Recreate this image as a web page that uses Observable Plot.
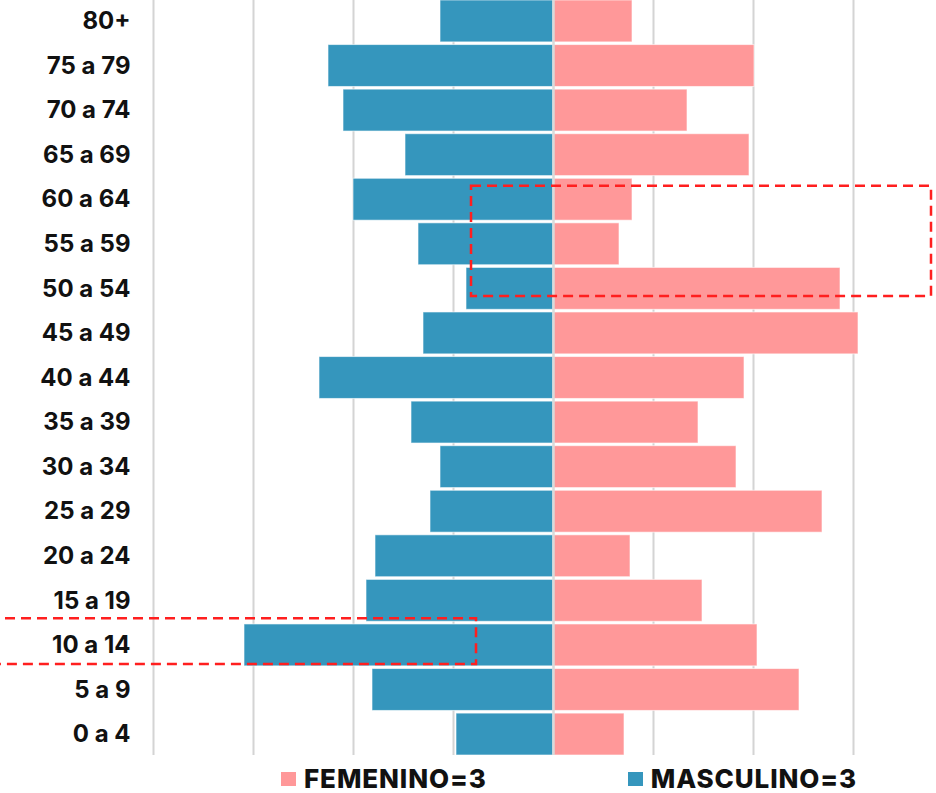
<!DOCTYPE html>
<html>
<head>
<meta charset="utf-8">
<script src="https://cdn.jsdelivr.net/npm/d3@7"></script>
<script src="https://cdn.jsdelivr.net/npm/@observablehq/plot@0.6"></script>
<style>
  html, body { margin: 0; padding: 0; background: #fff; }
  body { width: 936px; height: 793px; overflow: hidden; font-family: Inter, "DejaVu Sans", sans-serif; }
  #chart svg { display: block; }
  #legend { display: flex; align-items: center; margin-left: 281px; gap: 141px; padding-top: 10px; }
  .item { display: flex; align-items: center; font-size: 26px; font-weight: 800; color: #111; line-height: 1; letter-spacing: 0.9px; }
  .sw { width: 15px; height: 14px; margin-right: 8px; display: inline-block; }
</style>
</head>
<body>
<div id="chart"></div>
<div id="legend"></div>
<script>
// ---- data ----
const ageGroups = ["80+", "75 a 79", "70 a 74", "65 a 69", "60 a 64", "55 a 59", "50 a 54", "45 a 49",
  "40 a 44", "35 a 39", "30 a 34", "25 a 29", "20 a 24", "15 a 19", "10 a 14", "5 a 9", "0 a 4"];
const masculino = [1.13, 2.25, 2.10, 1.48, 2.00, 1.35, 0.87, 1.30, 2.34, 1.42, 1.13, 1.23, 1.78, 1.87, 3.09, 1.81, 0.97];
const femenino  = [0.79, 2.01, 1.34, 1.96, 0.79, 0.66, 2.87, 3.05, 1.91, 1.45, 1.83, 2.69, 0.77, 1.49, 2.04, 2.46, 0.71];
const gridTicks = [-4, -3, -2, -1, 1, 2, 3];
const seriesNames = ["FEMENINO", "MASCULINO"];
const legendLabels = ["FEMENINO=3", "MASCULINO=3"];
// highlight boxes (annotation), in data terms: age band + fraction of a row, x in value units
const highlightBoxes = [
  {fromAge: "60 a 64", fromOffset: 0.17, toAge: "50 a 54", toOffset: 0.64, x1: -0.82, x2: 3.78},
  {fromAge: "10 a 14", fromOffset: -0.13, toAge: "10 a 14", toOffset: 0.90, x1: -5.8, x2: -0.77}
];

const colors = {FEMENINO: "#ff9899", MASCULINO: "#3596bd"};

const rows = ageGroups.flatMap((g, i) => [
  {age: g, sexo: "MASCULINO", v: -masculino[i]},
  {age: g, sexo: "FEMENINO", v: femenino[i]}
]);

const plot = Plot.plot({
  width: 936,
  height: 756,
  marginTop: 0,
  marginBottom: 1,
  marginLeft: 140,
  marginRight: 0,
  x: {domain: [-4.13, 3.83], axis: null},
  y: {domain: ageGroups, paddingInner: 0.06, paddingOuter: 0, round: false, label: null},
  color: {domain: seriesNames, range: seriesNames.map(s => colors[s])},
  style: {fontFamily: "Inter, 'DejaVu Sans', sans-serif", background: "white", overflow: "visible"},
  marks: [
    Plot.ruleX(gridTicks, {stroke: "#d4d4d4", strokeWidth: 2, strokeOpacity: 1}),
    Plot.barX(rows, {x: "v", y: "age", fill: "sexo", stroke: "#ffffff", strokeOpacity: 0.6, strokeWidth: 1}),
    Plot.ruleX([0], {stroke: "#dadada", strokeWidth: 2.5, strokeOpacity: 1}),
    Plot.axisY({tickSize: 0, tickPadding: 10, fontSize: 24, fontWeight: 700, fill: "#111", label: null})
  ]
});
document.getElementById("chart").appendChild(plot);

// dashed highlight boxes drawn through the plot's own scales
const sx = plot.scale("x"), sy = plot.scale("y");
const step = sy.step ?? sy.bandwidth / (1 - 0.06);
const svg = d3.select(plot);
highlightBoxes.forEach(b => {
  const yTop = sy.apply(b.fromAge) + b.fromOffset * step;
  const yBot = sy.apply(b.toAge) + b.toOffset * step;
  const xL = sx.apply(b.x1), xR = sx.apply(b.x2);
  svg.append("rect")
    .attr("x", xL).attr("y", yTop)
    .attr("width", xR - xL).attr("height", yBot - yTop)
    .attr("fill", "none")
    .attr("stroke", "#ff1f1f")
    .attr("stroke-width", 2.5)
    .attr("stroke-dasharray", "10,6");
});

// legend
const legend = d3.select("#legend");
seriesNames.forEach((s, i) => {
  const it = legend.append("div").attr("class", "item");
  it.append("span").attr("class", "sw").style("background", colors[s]);
  it.append("span").text(legendLabels[i]);
});
</script>
</body>
</html>
